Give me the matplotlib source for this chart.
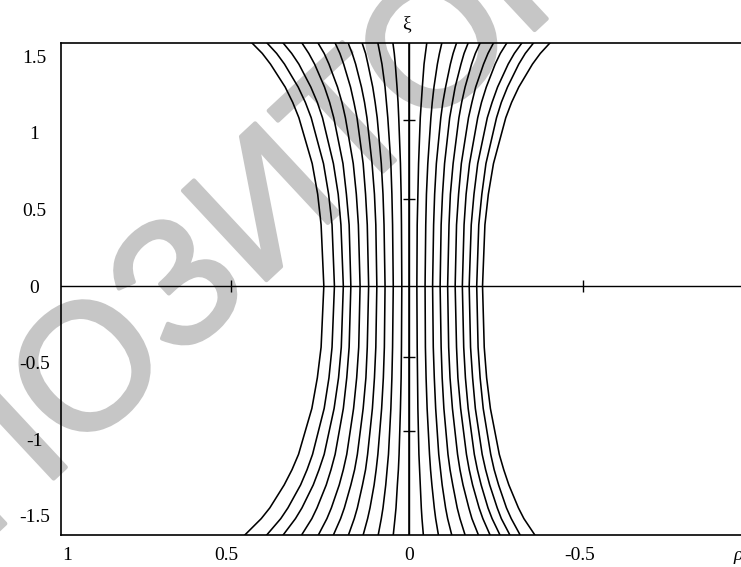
import matplotlib.pyplot as plt
import matplotlib.patheffects as pe
import numpy as np

plt.rcParams['font.family'] = ['Liberation Serif', 'DejaVu Serif']

xi_levels = [1.588, 1.52, 1.45, 1.3, 1.2, 1.1, 0.8, 0.6, 0.4, 0.0,
             -0.4, -0.6, -0.8, -1.1, -1.2, -1.3, -1.45, -1.52, -1.627]

# rho of the 21 curves (left to right) at each xi level
rho_xi_p1588 = [0.459, 0.415, 0.368, 0.313, 0.266, 0.216, 0.178, 0.137, 0.091, 0.047, 0.0,
                -0.052, -0.096, -0.139, -0.173, -0.208, -0.247, -0.286, -0.330, -0.364, -0.412]
rho_xi_p152 = [0.429, 0.387, 0.343, 0.293, 0.248, 0.202, 0.166, 0.127, 0.085, 0.043, 0.0,
               -0.048, -0.089, -0.129, -0.161, -0.194, -0.231, -0.267, -0.308, -0.340, -0.384]
rho_xi_p145 = [0.405, 0.364, 0.322, 0.276, 0.234, 0.191, 0.156, 0.120, 0.079, 0.040, 0.0,
               -0.044, -0.083, -0.121, -0.152, -0.183, -0.218, -0.252, -0.290, -0.321, -0.361]
rho_xi_p13 = [0.362, 0.324, 0.287, 0.247, 0.209, 0.171, 0.139, 0.106, 0.070, 0.035, 0.0,
              -0.039, -0.073, -0.107, -0.135, -0.164, -0.195, -0.226, -0.259, -0.288, -0.321]
rho_xi_p12 = [0.340, 0.303, 0.268, 0.232, 0.196, 0.161, 0.130, 0.099, 0.066, 0.032, 0.0,
              -0.036, -0.068, -0.099, -0.127, -0.154, -0.184, -0.212, -0.243, -0.270, -0.300]
rho_xi_p11 = [0.322, 0.286, 0.253, 0.220, 0.186, 0.152, 0.123, 0.093, 0.062, 0.030, 0.0,
              -0.033, -0.064, -0.093, -0.119, -0.146, -0.174, -0.201, -0.229, -0.256, -0.283]
rho_xi_p08 = [0.283, 0.250, 0.221, 0.193, 0.163, 0.134, 0.108, 0.081, 0.053, 0.025, 0.0,
              -0.028, -0.055, -0.080, -0.104, -0.129, -0.153, -0.177, -0.201, -0.225, -0.247]
rho_xi_p06 = [0.267, 0.235, 0.207, 0.183, 0.154, 0.127, 0.101, 0.076, 0.050, 0.023, 0.0,
              -0.026, -0.051, -0.075, -0.098, -0.121, -0.145, -0.167, -0.190, -0.213, -0.232]
rho_xi_p04 = [0.257, 0.225, 0.199, 0.175, 0.148, 0.122, 0.097, 0.073, 0.048, 0.022, 0.0,
              -0.024, -0.049, -0.072, -0.094, -0.117, -0.139, -0.161, -0.182, -0.204, -0.222]
rho_xi_0 = [0.249, 0.218, 0.192, 0.170, 0.143, 0.118, 0.094, 0.070, 0.046, 0.021, 0.0,
            -0.023, -0.047, -0.069, -0.091, -0.113, -0.135, -0.156, -0.176, -0.198, -0.215]
rho_xi_m04 = [0.257, 0.225, 0.198, 0.175, 0.147, 0.122, 0.097, 0.072, 0.048, 0.022, 0.0,
              -0.024, -0.048, -0.071, -0.094, -0.116, -0.139, -0.160, -0.180, -0.202, -0.220]
rho_xi_m06 = [0.268, 0.234, 0.206, 0.182, 0.153, 0.126, 0.101, 0.075, 0.050, 0.023, 0.0,
              -0.025, -0.050, -0.074, -0.097, -0.120, -0.143, -0.165, -0.186, -0.208, -0.227]
rho_xi_m08 = [0.284, 0.248, 0.219, 0.192, 0.162, 0.134, 0.107, 0.080, 0.053, 0.025, 0.0,
              -0.026, -0.053, -0.078, -0.102, -0.127, -0.151, -0.173, -0.194, -0.217, -0.238]
rho_xi_m11 = [0.323, 0.282, 0.248, 0.216, 0.182, 0.151, 0.121, 0.091, 0.060, 0.029, 0.0,
              -0.029, -0.060, -0.087, -0.114, -0.142, -0.168, -0.191, -0.214, -0.239, -0.264]
rho_xi_m12 = [0.342, 0.298, 0.263, 0.228, 0.192, 0.159, 0.127, 0.096, 0.064, 0.031, 0.0,
              -0.031, -0.063, -0.092, -0.120, -0.149, -0.176, -0.200, -0.224, -0.249, -0.277]
rho_xi_m13 = [0.365, 0.317, 0.280, 0.242, 0.204, 0.170, 0.136, 0.102, 0.068, 0.034, 0.0,
              -0.033, -0.067, -0.097, -0.128, -0.158, -0.186, -0.211, -0.236, -0.262, -0.292]
rho_xi_m145 = [0.407, 0.354, 0.313, 0.269, 0.227, 0.189, 0.151, 0.114, 0.076, 0.038, 0.0,
               -0.036, -0.074, -0.107, -0.141, -0.175, -0.205, -0.231, -0.258, -0.285, -0.320]
rho_xi_m152 = [0.432, 0.375, 0.332, 0.284, 0.240, 0.200, 0.160, 0.121, 0.081, 0.041, 0.0,
               -0.038, -0.078, -0.113, -0.149, -0.184, -0.216, -0.243, -0.270, -0.299, -0.336]
rho_xi_m1627 = [0.480, 0.416, 0.368, 0.314, 0.265, 0.221, 0.177, 0.134, 0.090, 0.046, 0.0,
                -0.042, -0.086, -0.125, -0.164, -0.203, -0.237, -0.266, -0.295, -0.325, -0.368]

rho_levels = [rho_xi_p1588, rho_xi_p152, rho_xi_p145, rho_xi_p13, rho_xi_p12, rho_xi_p11,
              rho_xi_p08, rho_xi_p06, rho_xi_p04, rho_xi_0, rho_xi_m04, rho_xi_m06,
              rho_xi_m08, rho_xi_m11, rho_xi_m12, rho_xi_m13, rho_xi_m145, rho_xi_m152,
              rho_xi_m1627]

x_ticks = [1, 0.5, 0, -0.5]
x_ticklabels = ['1', '0.5', '0', '-0.5']
y_ticks = [1.5, 1, 0.5, 0, -0.5, -1, -1.5]
y_ticklabels = ['1.5', '1', '0.5', '0', '-0.5', '-1', '-1.5']

# small marks on the inner axes
inner_rho_marks = [0.52, -0.51]
inner_xi_marks = [1.085, 0.567, -0.462, -0.946]

fig = plt.figure(figsize=(7.41, 5.67), dpi=100)
ax = fig.add_axes([61 / 741, 1 - 535 / 567, 690 / 741, 492 / 567])
ax.patch.set_visible(False)

# watermark behind everything
fig.text(272 / 741, 1 - 212 / 567, 'РЕПОЗИТОРИЙ', rotation=43, rotation_mode='anchor',
         ha='center', va='center', fontsize=128, color='#c6c6c6',
         family=['Liberation Sans', 'DejaVu Sans'], zorder=-1,
         path_effects=[pe.withStroke(linewidth=3, foreground='#c6c6c6')])

rho_arr = np.array(rho_levels)
for i in range(rho_arr.shape[1]):
    ax.plot(rho_arr[:, i], xi_levels, color='black', lw=1.15)

ax.axhline(0, color='black', lw=1.0)
ax.axvline(0, color='black', lw=1.0)
ax.plot(inner_rho_marks, [0] * len(inner_rho_marks), ls='none', marker='|',
        ms=8, mew=1.0, color='black')
ax.plot([0] * len(inner_xi_marks), inner_xi_marks, ls='none', marker='_',
        ms=9, mew=1.0, color='black')

ax.set_xlim(1.0175, -1.0)
ax.set_ylim(-1.627, 1.588)
ax.set_xticks(x_ticks)
ax.set_xticklabels(x_ticklabels)
ax.set_yticks(y_ticks)
ax.set_yticklabels(y_ticklabels, ha='center')
ax.tick_params(axis='both', length=0, labelsize=14)
ax.tick_params(axis='x', pad=9)
ax.tick_params(axis='y', pad=19)
for lab in ax.get_xticklabels():
    if lab.get_text() == '0.5':
        lab.set_ha('right')
        lab.set_x(0.47)
for side in ['left', 'top', 'bottom', 'right']:
    ax.spines[side].set_linewidth(1.2)

ax.annotate('ξ', xy=(0, 1), xycoords=ax.get_xaxis_transform(), xytext=(-2, 8),
            textcoords='offset points', ha='center', va='bottom', fontsize=14)
ax.annotate('ρ', xy=(-0.962, 0), xycoords=ax.get_xaxis_transform(), xytext=(0, -9),
            textcoords='offset points', ha='center', va='top', fontsize=14,
            style='italic')

fig.savefig('out.png', dpi=100)
